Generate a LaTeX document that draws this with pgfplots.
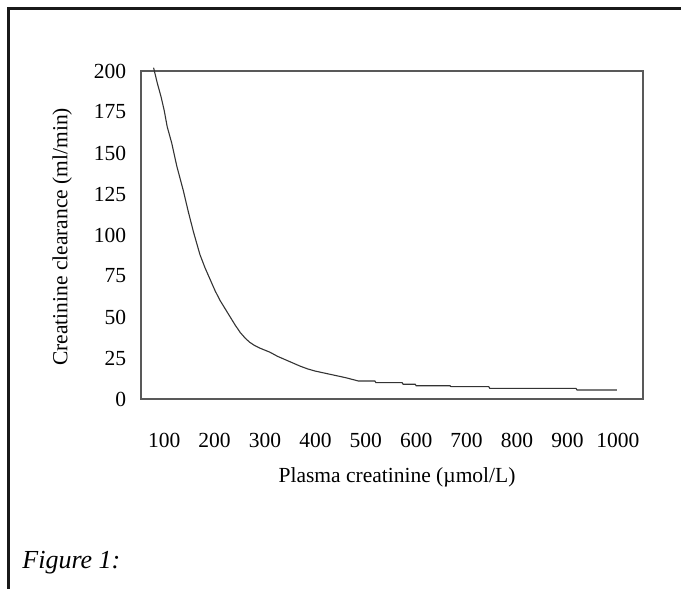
\documentclass[border=0pt]{standalone}
\usepackage{fontspec}
\setmainfont{Liberation Serif}
\usepackage{pgfplots}
\pgfplotsset{compat=1.18}

\begin{document}
\begin{tikzpicture}[x=1pt,y=1pt]
% page frame: 681 x 589 px at 0.5pt per px
\path[use as bounding box] (0,0) rectangle (340.5,294.5);
\draw[line width=1.5pt, black!90, line join=miter] (4,0) -- (4,290) -- (340.5,290);

\begin{axis}[
  at={(70.5pt,95pt)}, anchor=south west,
  scale only axis, width=251pt, height=164pt,
  xmin=54, xmax=1050, ymin=0, ymax=200,
  xtick={100,200,...,1000}, ytick={0,25,...,200},
  major tick length=0pt,
  axis line style={black!65, line width=0.6pt},
  font=\fontsize{10.75}{13}\selectfont,
  /pgf/number format/assume math mode=true,
  /pgf/number format/1000 sep={},
  yticklabel style={anchor=east, xshift=-3.9pt},
  xticklabel style={anchor=north, yshift=-13.7pt},
  xlabel={Plasma creatinine (µmol/L)},
  ylabel={Creatinine clearance (ml/min)},
  xlabel style={at={(axis description cs:0.51,-0.238)}, anchor=center},
  ylabel style={at={(axis description cs:-0.157,0.494)}, anchor=center, rotate=0},
  clip=false,
]
\addplot[black!80, line width=0.55pt] coordinates {
  (79,202) (86,193) (94,184) (100,176) (106,166) (115,156) (125,142)
  (138,127) (148,114) (158,102) (171,88) (181,80) (191,73) (201,66)
  (211,60) (221,55) (231,50) (241,45) (251,40.5) (261,37) (270,34.5)
  (280,32.5) (290,31) (310,28.5) (325,26) (340,24) (355,22) (370,20)
  (385,18.3) (400,17) (430,15) (460,13) (485,11) (518,11) (520,10)
  (572,10) (574,9) (598,9) (600,8.1) (667,8.1) (669,7.5) (744,7.5)
  (746,6.5) (917,6.5) (919,5.5) (998,5.5)
};
\end{axis}

\node[anchor=west, inner sep=0pt, font=\fontsize{13}{15}\selectfont\itshape] at (11,13) {Figure 1:};
\end{tikzpicture}
\end{document}
